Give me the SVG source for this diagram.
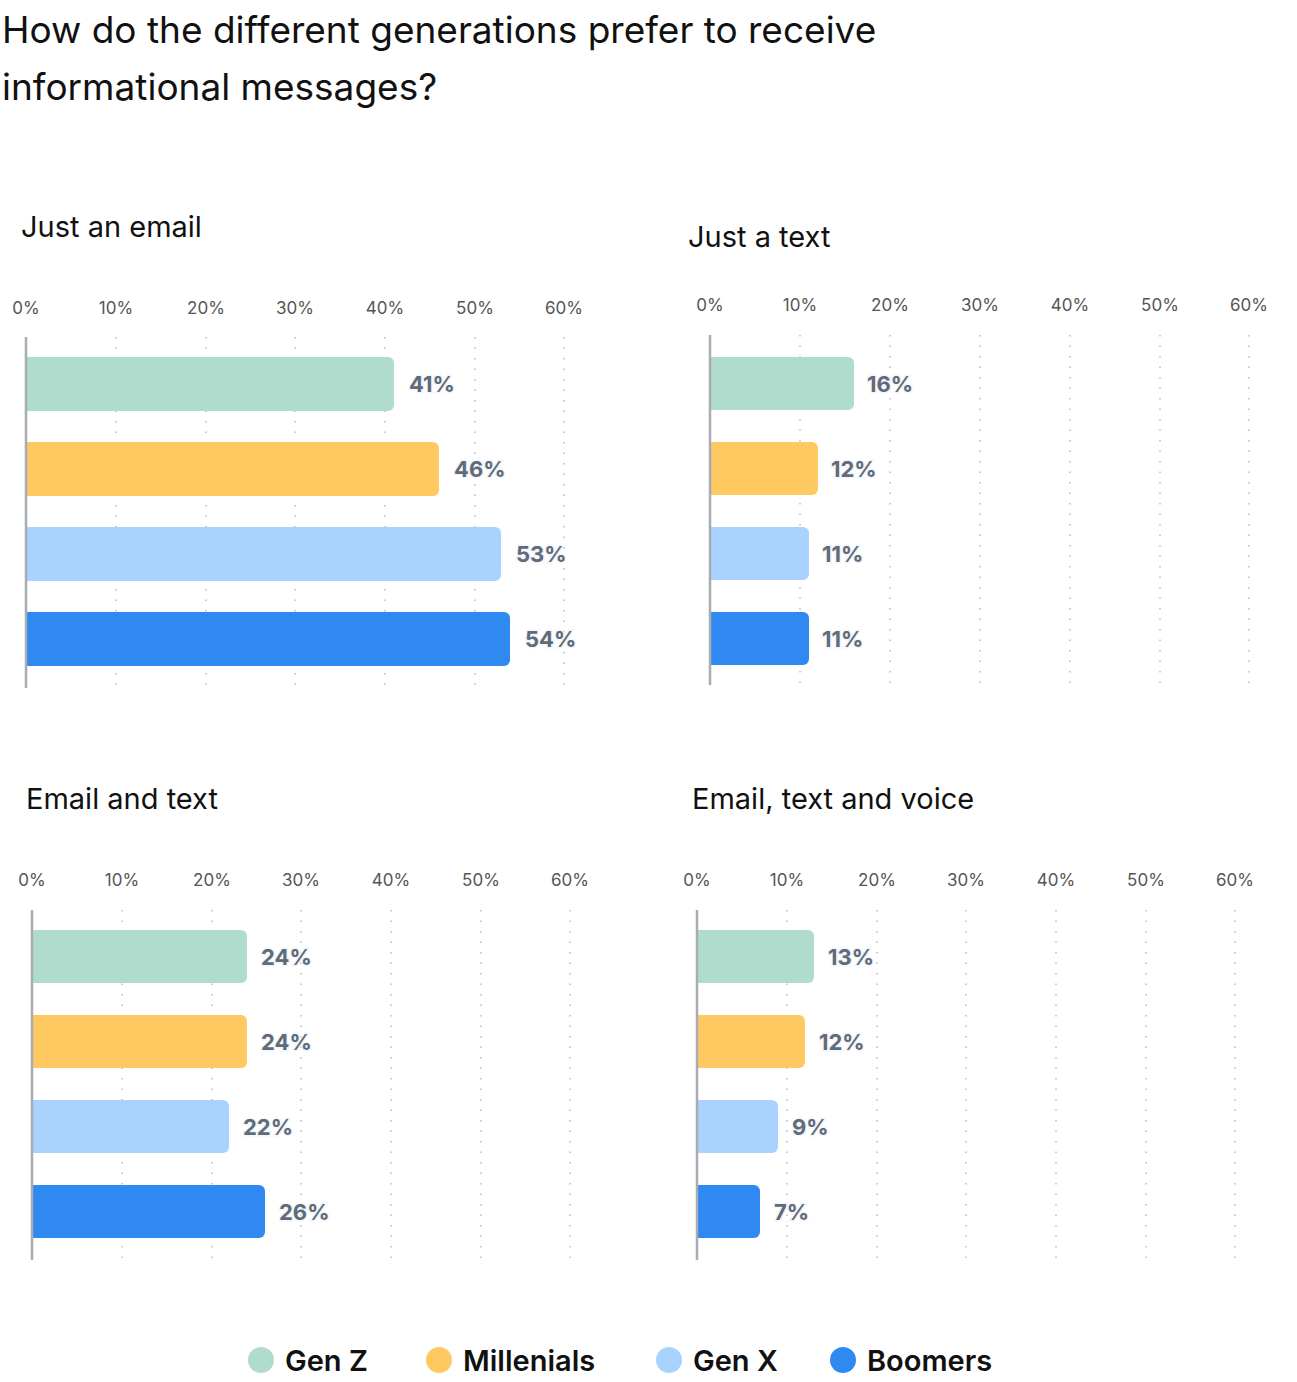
<svg xmlns="http://www.w3.org/2000/svg" width="1297" height="1382" viewBox="0 0 1297 1382">
<style>
text{font-family:Inter,"Noto Sans",sans-serif}
.title{font-size:37px;fill:#111}
.ct{font-size:29px;fill:#111}
.tk{font-size:17px;fill:#555;text-anchor:middle}
.v{font-size:22px;font-weight:700;fill:#5f6b78;stroke:#f3f6fa;stroke-width:3;paint-order:stroke}
.g{stroke:#bbb;stroke-width:1.5;stroke-dasharray:1.5 9}
.ax{stroke:#a8adb3;stroke-width:2.5}
.z{fill:#b0dccd}.m{fill:#ffc962}.x{fill:#a9d3fe}.b{fill:#3089f0}
.lg{font-size:29px;font-weight:600;fill:#111}
</style>
<rect width="1297" height="1382" fill="#fff"/>
<text class="title" x="2" y="43">How do the different generations prefer to receive</text>
<text class="title" x="2" y="100">informational messages?</text>

<g id="chart-email">
<text class="ct" x="21" y="237">Just an email</text>
<g class="tk"><text x="26" y="314">0%</text><text x="116" y="314">10%</text><text x="206" y="314">20%</text><text x="295" y="314">30%</text><text x="385" y="314">40%</text><text x="475" y="314">50%</text><text x="564" y="314">60%</text></g>
<path class="g" d="M116 337V688M206 337V688M295 337V688M385 337V688M475 337V688M564 337V688"/>
<path class="z" d="M26 357h362a6 6 0 0 1 6 6v42a6 6 0 0 1-6 6h-362z"/>
<path class="m" d="M26 442h407a6 6 0 0 1 6 6v42a6 6 0 0 1-6 6h-407z"/>
<path class="x" d="M26 527h469a6 6 0 0 1 6 6v42a6 6 0 0 1-6 6h-469z"/>
<path class="b" d="M26 612h478a6 6 0 0 1 6 6v42a6 6 0 0 1-6 6h-478z"/>
<line class="ax" x1="26" y1="337" x2="26" y2="688"/>
<text class="v" x="409" y="392">41%</text><text class="v" x="454" y="477">46%</text><text class="v" x="516" y="562">53%</text><text class="v" x="525" y="647">54%</text>
</g>

<g id="chart-text">
<text class="ct" x="688" y="247">Just a text</text>
<g class="tk"><text x="710" y="311">0%</text><text x="800" y="311">10%</text><text x="890" y="311">20%</text><text x="980" y="311">30%</text><text x="1070" y="311">40%</text><text x="1160" y="311">50%</text><text x="1249" y="311">60%</text></g>
<path class="g" d="M800 335V685M890 335V685M980 335V685M1070 335V685M1160 335V685M1249 335V685"/>
<path class="z" d="M710 357h138a6 6 0 0 1 6 6v41a6 6 0 0 1-6 6h-138z"/>
<path class="m" d="M710 442h102a6 6 0 0 1 6 6v41a6 6 0 0 1-6 6h-102z"/>
<path class="x" d="M710 527h93a6 6 0 0 1 6 6v41a6 6 0 0 1-6 6h-93z"/>
<path class="b" d="M710 612h93a6 6 0 0 1 6 6v41a6 6 0 0 1-6 6h-93z"/>
<line class="ax" x1="710" y1="335" x2="710" y2="685"/>
<text class="v" x="867" y="392">16%</text><text class="v" x="831" y="477">12%</text><text class="v" x="822" y="562">11%</text><text class="v" x="822" y="647">11%</text>
</g>

<g id="chart-email-text">
<text class="ct" x="26" y="809">Email and text</text>
<g class="tk"><text x="32" y="886">0%</text><text x="122" y="886">10%</text><text x="212" y="886">20%</text><text x="301" y="886">30%</text><text x="391" y="886">40%</text><text x="481" y="886">50%</text><text x="570" y="886">60%</text></g>
<path class="g" d="M122 910V1260M212 910V1260M301 910V1260M391 910V1260M481 910V1260M570 910V1260"/>
<path class="z" d="M32 930h209a6 6 0 0 1 6 6v41a6 6 0 0 1-6 6h-209z"/>
<path class="m" d="M32 1015h209a6 6 0 0 1 6 6v41a6 6 0 0 1-6 6h-209z"/>
<path class="x" d="M32 1100h191a6 6 0 0 1 6 6v41a6 6 0 0 1-6 6h-191z"/>
<path class="b" d="M32 1185h227a6 6 0 0 1 6 6v41a6 6 0 0 1-6 6h-227z"/>
<line class="ax" x1="32" y1="910" x2="32" y2="1260"/>
<text class="v" x="261" y="965">24%</text><text class="v" x="261" y="1050">24%</text><text class="v" x="243" y="1135">22%</text><text class="v" x="279" y="1220">26%</text>
</g>

<g id="chart-email-text-voice">
<text class="ct" x="692" y="809">Email, text and voice</text>
<g class="tk"><text x="697" y="886">0%</text><text x="787" y="886">10%</text><text x="877" y="886">20%</text><text x="966" y="886">30%</text><text x="1056" y="886">40%</text><text x="1146" y="886">50%</text><text x="1235" y="886">60%</text></g>
<path class="g" d="M787 910V1260M877 910V1260M966 910V1260M1056 910V1260M1146 910V1260M1235 910V1260"/>
<path class="z" d="M697 930h111a6 6 0 0 1 6 6v41a6 6 0 0 1-6 6h-111z"/>
<path class="m" d="M697 1015h102a6 6 0 0 1 6 6v41a6 6 0 0 1-6 6h-102z"/>
<path class="x" d="M697 1100h75a6 6 0 0 1 6 6v41a6 6 0 0 1-6 6h-75z"/>
<path class="b" d="M697 1185h57a6 6 0 0 1 6 6v41a6 6 0 0 1-6 6h-57z"/>
<line class="ax" x1="697" y1="910" x2="697" y2="1260"/>
<text class="v" x="828" y="965">13%</text><text class="v" x="819" y="1050">12%</text><text class="v" x="792" y="1135">9%</text><text class="v" x="774" y="1220">7%</text>
</g>

<g id="legend">
<circle class="z" cx="261" cy="1360" r="13"/><text class="lg" x="285" y="1371">Gen Z</text>
<circle class="m" cx="439" cy="1360" r="13"/><text class="lg" x="463" y="1371">Millenials</text>
<circle class="x" cx="669" cy="1360" r="13"/><text class="lg" x="693" y="1371">Gen X</text>
<circle class="b" cx="843" cy="1360" r="13"/><text class="lg" x="867" y="1371">Boomers</text>
</g>
</svg>
